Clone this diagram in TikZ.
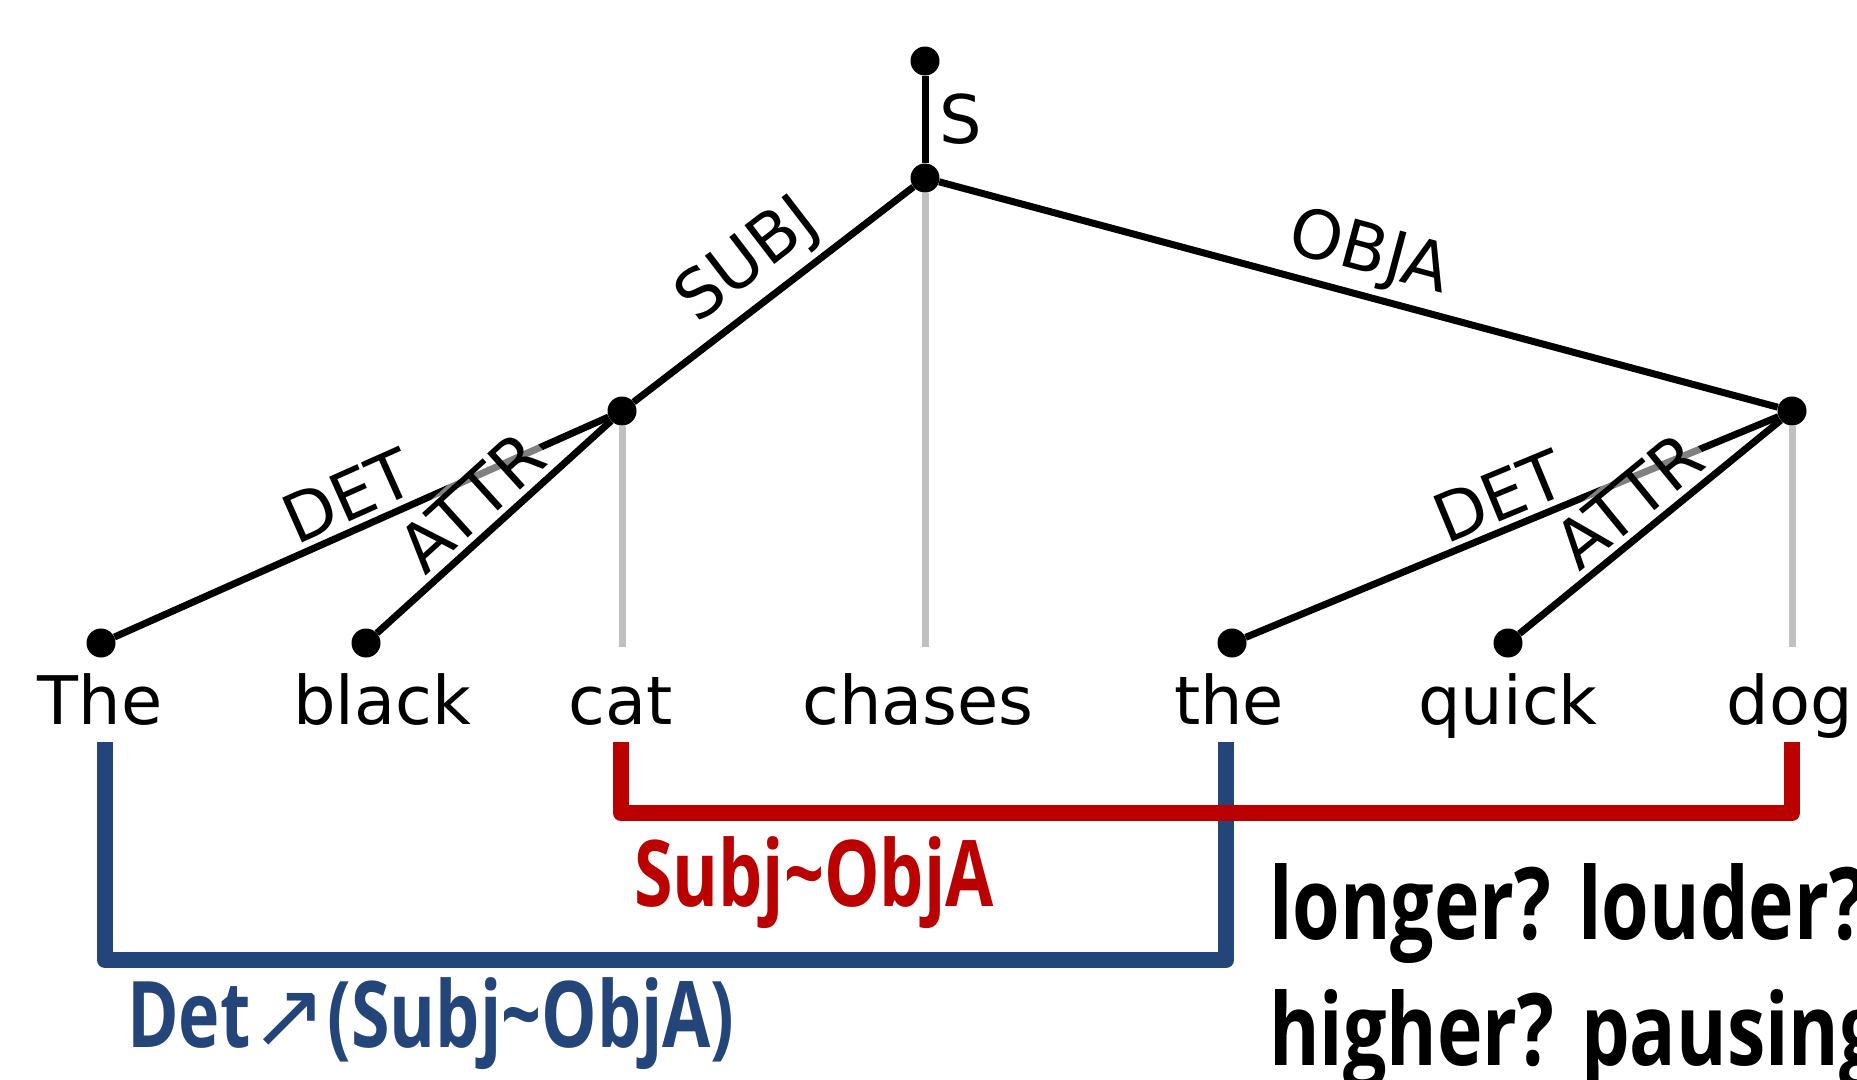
\documentclass[tikz,border=0pt]{standalone}
\usepackage{fontspec}
\setmainfont{DejaVu Sans}
\newfontfamily\condfont[FakeStretch=0.76]{Open Sans}
\newfontfamily\condwidefont[FakeStretch=0.77]{Open Sans}
\usetikzlibrary{positioning}
\definecolor{DepRed}{HTML}{BB0000}
\definecolor{DepBlue}{HTML}{23457A}
\definecolor{DepGrey}{HTML}{C0C0C0}
\tikzset{
    % tree points and words
    treedot/.style={
        circle,
        fill=black,
        inner sep=0pt,
        minimum size=29pt
    },
    word/.style={
        anchor=base,
        inner sep=0pt,
        font=\fontsize{67}{80}\selectfont
    },
    % dependency edges
    depedge/.style={
        line width=7pt,
        draw=black
    },
    headline/.style={
        line width=7pt,
        draw=DepGrey
    },
    deplabel/.style={
        midway,
        sloped,
        above=2pt,
        inner sep=4pt,
        fill=white,
        fill opacity=0.5,
        text opacity=1,
        font=\fontsize{67}{80}\selectfont
    },
    % brackets below the words
    subjbracket/.style={
        line width=16pt,
        draw=DepRed,
        line join=round
    },
    detbracket/.style={
        line width=16pt,
        draw=DepBlue,
        line join=round
    },
    bracketlabel/.style={
        anchor=base west,
        inner sep=0pt,
        font=\fontsize{92}{100}\selectfont\condfont\bfseries
    },
    question/.style={
        anchor=base west,
        inner sep=0pt,
        font=\fontsize{100}{110}\selectfont\condwidefont\bfseries
    }
}

\begin{document}
\begin{tikzpicture}[x=1pt, y=-1pt]
    \useasboundingbox (0,0) rectangle (1857,1079);

    % Tree points
    \node[treedot] (top) at (925,61) {};
    \node[treedot] (chases) at (925,178) {};
    \node[treedot] (cat) at (622,411) {};
    \node[treedot] (dog) at (1792,411) {};
    \node[treedot] (The) at (101,643) {};
    \node[treedot] (black) at (366,643) {};
    \node[treedot] (the) at (1232,643) {};
    \node[treedot] (quick) at (1508,643) {};

    % Words
    \node[word] (wThe) at (100,724) {The};
    \node[word] (wblack) at (382,724) {black};
    \node[word] (wcat) at (621,724) {cat};
    \node[word] (wchases) at (918,724) {chases};
    \node[word] (wthe) at (1229,724) {the};
    \node[word] (wquick) at (1508,724) {quick};
    \node[word] (wdog) at (1790,724) {dog};

    % Heads down to their words
    \coordinate (catfoot) at (622,647);
    \coordinate (chasesfoot) at (925,647);
    \coordinate (dogfoot) at (1792,647);
    \draw[headline] (cat) -- (catfoot);
    \draw[headline] (chases) -- (chasesfoot);
    \draw[headline] (dog) -- (dogfoot);

    % Dependencies
    \draw[depedge] (top) -- node[right=8pt, font=\fontsize{67}{80}\selectfont] {S} (chases);
    \draw[depedge] (chases) -- node[deplabel] {SUBJ} (cat);
    \draw[depedge] (chases) -- node[deplabel] {OBJA} (dog);
    \draw[depedge] (cat) -- node[deplabel] {DET} (The);
    \draw[depedge] (cat) -- node[deplabel] {ATTR} (black);
    \draw[depedge] (dog) -- node[deplabel] {DET} (the);
    \draw[depedge] (dog) -- node[deplabel] {ATTR} (quick);

    % Brackets
    \coordinate (detA) at (105,742);
    \coordinate (detB) at (1226,742);
    \coordinate (detlow) at (0,960);
    \coordinate (subjA) at (621,742);
    \coordinate (subjB) at (1792,742);
    \coordinate (subjlow) at (0,813);
    \draw[detbracket] (detA) -- (detA |- detlow) -- (detB |- detlow) -- (detB);
    \draw[subjbracket] (subjA) -- (subjA |- subjlow) -- (subjB |- subjlow) -- (subjB);

    \node[bracketlabel, text=DepRed] (subjobja) at (634,906) {Subj\textasciitilde ObjA};
    \node[bracketlabel, text=DepBlue] (detsubj) at (127,1047) {Det{\rmfamily\mdseries ↗}(Subj\textasciitilde ObjA)};

    % Questions
    \node[question] (q1) at (1269,939) {longer? louder?};
    \node[question] (q2) at (1269,1065) {higher? pausing?};
\end{tikzpicture}
\end{document}
